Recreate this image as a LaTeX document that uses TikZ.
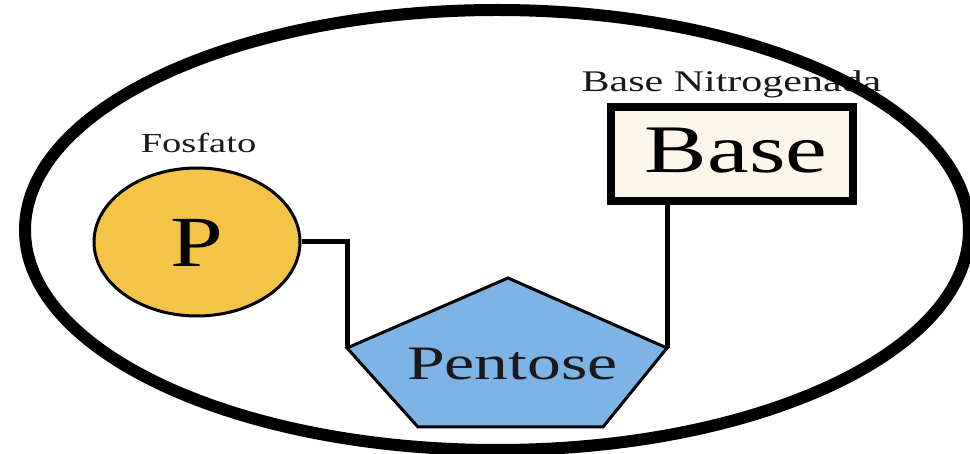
\documentclass[tikz,border=0pt]{standalone}
\usepackage{fontspec}
\setmainfont{Liberation Serif}
\usetikzlibrary{shapes.geometric}
\definecolor{pyellow}{HTML}{F3C445}
\definecolor{pblue}{HTML}{7DB4E5}
\definecolor{pcream}{HTML}{FDF6EA}
\newcommand\stretchtxt[2]{\scalebox{#1}[1]{#2}}
\begin{document}
\begin{tikzpicture}[x=1pt,y=-1pt,
  conn/.style={draw=black,line width=5pt},
  lbl/.style={inner sep=0pt,anchor=base,text=black!90}]
\useasboundingbox (0,0) rectangle (970,454);
\fill[white] (0,0) rectangle (970,454);
% phosphate
\node[ellipse,draw=black,line width=3pt,fill=pyellow,minimum width=206pt,minimum height=148pt,inner sep=0pt] (phos) at (197,242) {};
\node[inner sep=0pt] (ptxt) at (197,243) {\fontsize{72}{72}\selectfont\stretchtxt{1.32}{P}};
\node[lbl] (fosfato) at (198.5,153) {\fontsize{27.5}{28}\selectfont\stretchtxt{1.4}{Fosfato}};
% base
\node[rectangle,draw=black,line width=8pt,fill=pcream,minimum width=242pt,minimum height=94pt,inner sep=0pt] (base) at (732,154) {};
\node[inner sep=0pt] (basetxt) at (736,150.5) {\fontsize{68}{68}\selectfont\stretchtxt{1.38}{Base}};
\node[lbl] (nitro) at (731.5,92) {\fontsize{30}{30}\selectfont\stretchtxt{1.4}{Base Nitrogenada}};
% pentose
\coordinate (pt) at (508,278);
\coordinate (pl) at (347,348);
\coordinate (pr) at (667,348);
\coordinate (pbr) at (603,427);
\coordinate (pbl) at (418,427);
\draw[line width=3pt,fill=pblue,line join=miter] (pt) -- (pr) -- (pbr) -- (pbl) -- (pl) -- cycle;
\node[lbl] (pentose) at (512.5,380) {\fontsize{48}{48}\selectfont\stretchtxt{1.41}{Pentose}};
% connectors
\draw[conn] (phos.east) -| (pl);
\draw[conn] (pr |- base.south) -- (pr);
% outer ellipse
\draw[line width=12pt] (497,230) ellipse [x radius=472, y radius=220];
\end{tikzpicture}
\end{document}
